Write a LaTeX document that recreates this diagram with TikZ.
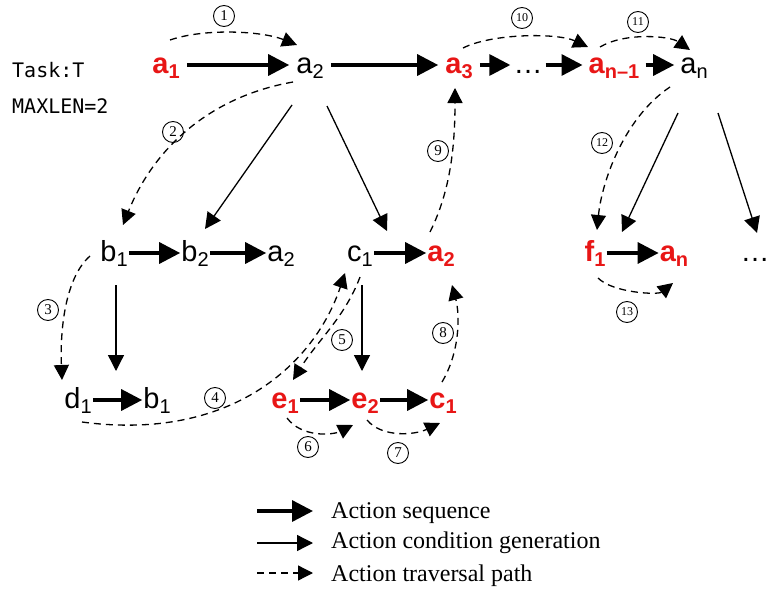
\documentclass[tikz,border=0pt]{standalone}
\usepackage{fontspec}
\setmainfont{Liberation Serif}
\newfontfamily\actfont{Liberation Sans}
\newfontfamily\taskfont{DejaVu Sans Mono}
\usetikzlibrary{arrows.meta}
\definecolor{hitred}{RGB}{232,22,22}
\newcommand{\lowidx}[1]{\raisebox{-5pt}{\fontsize{20}{20}\selectfont #1}}

\begin{document}
\begin{tikzpicture}[x=1pt, y=-1pt,
    act/.style={inner xsep=1pt, inner ysep=0pt, text height=16pt, text depth=0pt, font=\actfont\fontsize{29}{29}\selectfont},
    hit/.style={act, text=hitred, font=\actfont\bfseries\fontsize{29}{29}\selectfont},
    num/.style={circle, draw, line width=0.9pt, minimum size=21pt, inner sep=0pt, font=\fontsize{15}{15}\selectfont},
    task/.style={anchor=base west, inner sep=0pt, font=\taskfont\fontsize{20}{20}\selectfont},
    key/.style={anchor=base west, inner sep=0pt, font=\fontsize{24}{24}\selectfont},
    seq/.style={-{Triangle[length=21pt, width=21pt]}, line width=3.4pt},
    cond/.style={-{Triangle[length=16pt, width=16pt]}, line width=1.3pt},
    trav/.style={-{Triangle[length=15pt, width=15pt]}, line width=1.3pt, dash pattern=on 7pt off 5pt}]
    \useasboundingbox (0,0) rectangle (780,597);

    \node (task) [task] at (12,77) {Task:T};
    \node (maxlen) [task] at (12,113) {MAXLEN=2};

    \node (a1) [hit, inner xsep=7pt] at (166,65) {a\lowidx{1}};
    \node (a2) [act, inner xsep=7pt] at (310,65) {a\lowidx{2}};
    \node (a3) [hit, inner xsep=7pt] at (459,65) {a\lowidx{3}};
    \node (adots) [act, inner xsep=3pt] at (528,65) {\dots};
    \node (an1) [hit, inner xsep=6pt] at (614,65) {a\lowidx{n\textendash1}};
    \node (an) [act, inner xsep=6pt] at (694,65) {a\lowidx{n}};

    \node (b1) [act] at (114,253) {b\lowidx{1}};
    \node (b2) [act] at (195,253) {b\lowidx{2}};
    \node (ba2) [act] at (281,253) {a\lowidx{2}};
    \node (c1) [act] at (360,253) {c\lowidx{1}};
    \node (ca2) [hit] at (441,253) {a\lowidx{2}};
    \node (f1) [hit] at (595,253) {f\lowidx{1}};
    \node (fan) [hit] at (674,253) {a\lowidx{n}};
    \node (fdots) [act] at (755,253) {\dots};

    \node (d1) [act] at (78,400) {d\lowidx{1}};
    \node (db1) [act] at (157,400) {b\lowidx{1}};
    \node (e1) [hit] at (285,400) {e\lowidx{1}};
    \node (e2) [hit] at (365,400) {e\lowidx{2}};
    \node (ec1) [hit] at (443,400) {c\lowidx{1}};

    \draw[seq] (a1) -- (a2);
    \draw[seq] (a2) -- (a3);
    \draw[seq] (a3) -- (adots);
    \draw[seq] (adots) -- (an1);
    \draw[seq] (an1) -- (an);
    \draw[seq] (b1) -- (b2);
    \draw[seq] (b2) -- (ba2);
    \draw[seq] (c1) -- (ca2);
    \draw[seq] (f1) -- (fan);
    \draw[seq] (d1) -- (db1);
    \draw[seq] (e1) -- (e2);
    \draw[seq] (e2) -- (ec1);

    \draw[cond] ([shift={(-18,40)}]a2.center) -- ([shift={(10,-24)}]b2.center);
    \draw[cond] ([shift={(17,41)}]a2.center) -- ([shift={(27,-22)}]c1.center);
    \draw[cond] ([shift={(2,32)}]b1.center) -- ([shift={(-41,-29)}]db1.center);
    \draw[cond] ([shift={(2,32)}]c1.center) -- ([shift={(-3,-29)}]e2.center);
    \draw[cond] ([shift={(-16,48)}]an.center) -- ([shift={(27,-21)}]f1.center);
    \draw[cond] ([shift={(24,48)}]an.center) -- ([shift={(2,-20)}]fdots.center);

    \draw[trav] ([shift={(4,-25)}]a1.center) .. controls +(35,-12) and +(-35,-14) .. ([shift={(-13,-20)}]a2.center);
    \draw[trav] ([shift={(-17,17)}]a2.center) .. controls +(-85,15) and +(30,-75) .. ([shift={(9,-28)}]b1.center);
    \draw[trav] ([shift={(-24,3)}]b1.center) .. controls +(-25,22) and +(-2,-50) .. ([shift={(-16,-20)}]d1.center);
    \draw[trav] ([shift={(4,22)}]d1.center) .. controls +(150,20) and +(-30,90) .. ([shift={(-15,20)}]c1.center);
    \draw[trav] ([shift={(0,24)}]c1.center) .. controls +(-15,40) and +(25,-40) .. ([shift={(8,-20)}]e1.center);
    \draw[trav] ([shift={(2,18)}]e1.center) .. controls +(15,20) and +(-20,10) .. ([shift={(-12,25)}]e2.center);
    \draw[trav] ([shift={(2,20)}]e2.center) .. controls +(15,18) and +(-25,12) .. ([shift={(-3,23)}]ec1.center);
    \draw[trav] ([shift={(-1,-18)}]ec1.center) .. controls +(18,-30) and +(8,30) .. ([shift={(11,32)}]ca2.center);
    \draw[trav] ([shift={(-11,-21)}]ca2.center) .. controls +(20,-40) and +(0,60) .. ([shift={(-4,23)}]a3.center);
    \draw[trav] ([shift={(4,-17)}]a3.center) .. controls +(30,-15) and +(-30,-14) .. ([shift={(-26,-18)}]an1.center);
    \draw[trav] ([shift={(-14,-18)}]an1.center) .. controls +(25,-15) and +(-20,-14) .. ([shift={(-4,-15)}]an.center);
    \draw[trav] ([shift={(-24,22)}]an.center) .. controls +(-45,30) and +(5,-50) .. ([shift={(2,-23)}]f1.center);
    \draw[trav] ([shift={(3,25)}]f1.center) .. controls +(15,15) and +(-15,12) .. ([shift={(-1,30)}]fan.center);

    \node (s1) [num] at (224,16) {1};
    \node (s2) [num] at (173,132) {2};
    \node (s3) [num] at (48,310) {3};
    \node (s4) [num] at (215,398) {4};
    \node (s5) [num] at (342,340) {5};
    \node (s6) [num] at (308,447) {6};
    \node (s7) [num] at (398,453) {7};
    \node (s8) [num] at (443,333) {8};
    \node (s9) [num] at (438,151) {9};
    \node (s10) [num, font=\fontsize{12}{12}\selectfont] at (522,18) {10};
    \node (s11) [num, font=\fontsize{12}{12}\selectfont] at (638,22) {11};
    \node (s12) [num, font=\fontsize{12}{12}\selectfont] at (602,143) {12};
    \node (s13) [num, font=\fontsize{12}{12}\selectfont] at (627,312) {13};

    \coordinate (k1s) at (257,511);
    \coordinate (k1e) at (313,511);
    \coordinate (k2s) at (257,543);
    \coordinate (k2e) at (313,543);
    \coordinate (k3s) at (257,573);
    \coordinate (k3e) at (313,573);
    \draw[seq] (k1s) -- (k1e);
    \draw[cond] (k2s) -- (k2e);
    \draw[trav] (k3s) -- (k3e);
    \node (k1) [key] at (331,518) {Action sequence};
    \node (k2) [key] at (331,548) {Action condition generation};
    \node (k3) [key] at (331,581) {Action traversal path};
\end{tikzpicture}
\end{document}
